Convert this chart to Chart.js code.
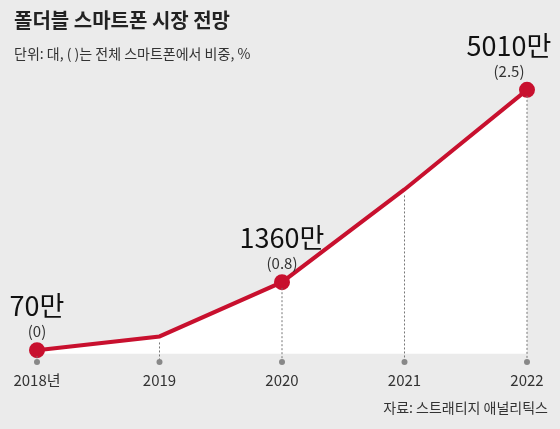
<!DOCTYPE html>
<html><head><meta charset="utf-8">
<script src="https://cdn.jsdelivr.net/npm/chart.js@4"></script>
<style>
body{margin:0;background:#ebebeb;font-family:"Noto Sans CJK KR",sans-serif;}
#wrap{position:relative;width:560px;height:429px;}
canvas{position:absolute;left:0;top:0;}
.t{position:absolute;color:#222;white-space:nowrap;}
</style></head><body>
<div id="wrap">
<canvas id="c" width="560" height="429"></canvas>
<div class="t" style="left:14px;top:5px;font-size:20px;font-weight:bold;">폴더블 스마트폰 시장 전망</div>
<div class="t" style="left:14px;top:43px;font-size:14px;color:#333;">단위: 대, ( )는 전체 스마트폰에서 비중, %</div>
<div class="t" style="right:12px;top:397px;font-size:14px;color:#333;">자료: 스트래티지 애널리틱스</div>
</div>
<script>
const categories=["2018년","2019","2020","2021","2022"];
const shipments=[70,330,1360,3120,5010];
const labelTop=["70만",null,"1360만",null,"5010만"];
const labelSub=["(0)",null,"(0.8)",null,"(2.5)"];
const labelShift=[0,0,0,0,-18];
const pointSizes=[6,0,6,0,6];

const labelsPlugin={id:'lbl',afterDatasetsDraw(ch){
  const ctx=ch.ctx, meta=ch.getDatasetMeta(0), ya=ch.scales.y;
  ctx.save();
  meta.data.forEach((p,i)=>{
    ctx.strokeStyle='#777';ctx.lineWidth=1;ctx.setLineDash([2,2]);
    ctx.beginPath();ctx.moveTo(p.x,p.y+6);ctx.lineTo(p.x,ya.bottom);ctx.stroke();
    ctx.setLineDash([]);
    ctx.fillStyle='#888';ctx.beginPath();ctx.arc(p.x,ya.bottom,3,0,Math.PI*2);ctx.fill();
    ctx.fillStyle='#333';ctx.textAlign='center';ctx.font='15px "Noto Sans CJK KR"';
    ctx.fillText(categories[i],p.x,ya.bottom+24);
    if(labelTop[i]){
      const x=p.x+labelShift[i];
      ctx.fillStyle='#111';
      ctx.font='27px "Noto Sans CJK KR"';
      ctx.fillText(labelTop[i],x,p.y-34);
      ctx.fillStyle='#333';ctx.font='15px "Noto Sans CJK KR"';
      ctx.fillText(labelSub[i],x,p.y-13);
    }
  });
  ctx.restore();
}};
new Chart(document.getElementById('c'),{
  type:'line',
  data:{labels:categories,datasets:[{data:shipments,borderColor:'#c8102e',borderWidth:4,
    fill:'origin',backgroundColor:'#ffffff',pointRadius:pointSizes,pointBackgroundColor:'#c8102e',
    pointBorderColor:'#c8102e',tension:0}]},
  options:{responsive:false,animation:false,
    layout:{padding:{left:37,right:33,top:3,bottom:67}},
    plugins:{legend:{display:false},tooltip:{enabled:false}},
    scales:{
      x:{offset:false,display:false},
      y:{display:false,min:-155,max:6526}
    }},
  plugins:[labelsPlugin]
});
</script>
</body></html>
